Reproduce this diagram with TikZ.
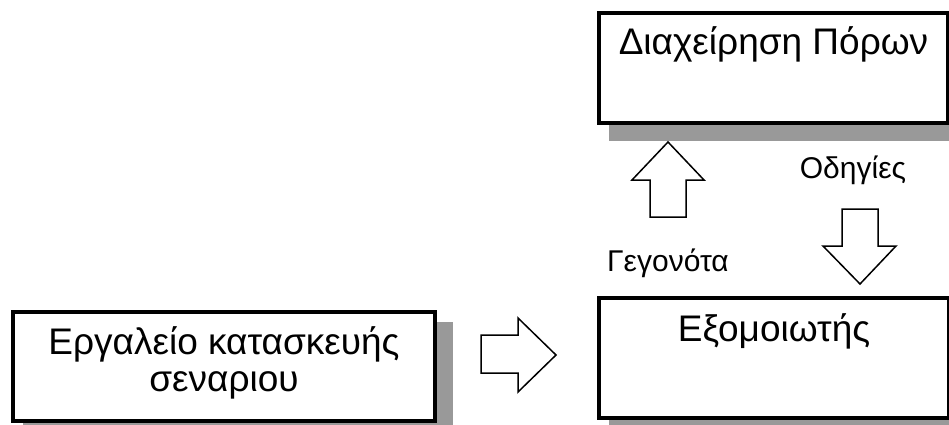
\documentclass[tikz,border=0pt]{standalone}
\usepackage{fontspec}
\setmainfont{Liberation Sans}
\usetikzlibrary{backgrounds}
\definecolor{shadowgray}{RGB}{153,153,153}
\tikzset{
  panel/.style={draw=black, line width=4pt, fill=white, inner sep=0pt,
    anchor=north west},
  panelshadow/.style={fill=shadowgray},
  boxtext/.style={font=\fontsize{37}{37}\selectfont, anchor=base, inner sep=0pt, align=center},
  tagtext/.style={font=\fontsize{30}{34}\selectfont, anchor=base, inner sep=0pt},
  blockarrow/.style={draw=black, line width=1.5pt, fill=white, line join=miter}
}
\begin{document}
\begin{tikzpicture}[x=1pt, y=-1pt]
  \useasboundingbox (0,0) rectangle (949,425);

  % the three panels
  \node[panel, minimum width=349pt, minimum height=110pt] (res) at (597,11) {};
  \node[panel, minimum width=350pt, minimum height=120pt] (sim) at (597,296) {};
  \node[panel, minimum width=422pt, minimum height=109pt] (tool) at (11,310) {};

  % drop shadows, offset down and to the right
  \begin{scope}[on background layer]
    \foreach \p in {res, sim, tool}
      \fill[panelshadow] ([shift={(12,12)}]\p.north west) rectangle ([shift={(16,16)}]\p.south east);
  \end{scope}

  % panel captions (for the two-line caption, base is the last line's baseline)
  \node[boxtext] (restext) at ([yshift=-44pt]res.north) {Διαχείρηση Πόρων};
  \node[boxtext] (simtext) at ([yshift=-45pt]sim.north) {Εξομοιωτής};
  \node[boxtext] (tooltext) at ([yshift=-81pt]tool.north) {Εργαλείο κατασκευής\\σεναριου};

  % block arrows
  \draw[blockarrow] (481,335) -- (518,335) -- (518,318) -- (556,355) -- (518,392)
    -- (518,373) -- (481,373) -- cycle;
  \draw[blockarrow] (650,217) -- (650,180) -- (632,180) -- (668,142) -- (704,180)
    -- (686,180) -- (686,217) -- cycle;
  \draw[blockarrow] (842,209) -- (878,209) -- (878,246) -- (896,246) -- (860,284)
    -- (823,246) -- (842,246) -- cycle;

  % arrow captions
  \node[tagtext] (orders) at (853,178) {Οδηγίες};
  \node[tagtext] (events) at (668,271) {Γεγονότα};
\end{tikzpicture}
\end{document}
